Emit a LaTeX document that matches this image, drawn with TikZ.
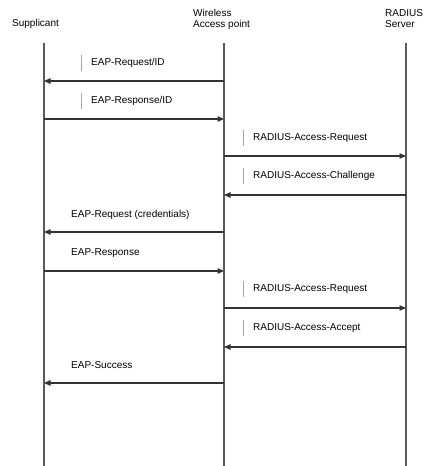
\documentclass[tikz,border=0pt]{standalone}
\usepackage{fontspec}
\setmainfont{Liberation Sans}
\usetikzlibrary{arrows.meta}
\begin{document}
\begin{tikzpicture}[x=1pt,y=-1pt,
  lifeline/.style={draw=black!65,line width=1.3pt},
  msg/.style={draw=black!80,line width=1.2pt,-{Triangle[length=6.5pt,width=5.5pt]}},
  lbl/.style={anchor=west,inner sep=0pt,font=\fontsize{10}{11}\selectfont,text=black},
  hdr/.style={anchor=north west,inner sep=0pt,align=left,font=\fontsize{10}{11.5}\selectfont,text=black},
  tick/.style={draw=black!35,line width=0.8pt}]
\useasboundingbox (0,0) rectangle (427,466);
% headers
\node[hdr] (hs) at (12,19) {Supplicant};
\node[hdr] (ha) at (193,9) {Wireless\\Access point};
\node[hdr] (hr) at (385,9) {RADIUS\\Server};
% lifelines
\coordinate (sT) at (44,43); \coordinate (sB) at (44,466);
\coordinate (aT) at (224,43); \coordinate (aB) at (224,466);
\coordinate (rT) at (406,43); \coordinate (rB) at (406,466);
\draw[lifeline] (sT) -- (sB);
\draw[lifeline] (aT) -- (aB);
\draw[lifeline] (rT) -- (rB);
% message endpoints
\foreach \n/\y in {1/81,2/119,3/156,4/195,5/232,6/271,7/308,8/347,9/383}{
  \coordinate (s\n) at (44,\y);
  \coordinate (a\n) at (224,\y);
  \coordinate (r\n) at (406,\y);
}
% messages
\draw[msg] (a1) -- (s1);
\draw[tick] (81,55) -- (81,71);
\node[lbl] (l1) at (91,63) {EAP-Request/ID};
\draw[msg] (s2) -- (a2);
\draw[tick] (81,93) -- (81,109);
\node[lbl] (l2) at (91,101) {EAP-Response/ID};
\draw[msg] (a3) -- (r3);
\draw[tick] (243,130) -- (243,146);
\node[lbl] (l3) at (253,138) {RADIUS-Access-Request};
\draw[msg] (r4) -- (a4);
\draw[tick] (243,168) -- (243,184);
\node[lbl] (l4) at (253,176) {RADIUS-Access-Challenge};
\draw[msg] (a5) -- (s5);
\node[lbl] (l5) at (71,215) {EAP-Request (credentials)};
\draw[msg] (s6) -- (a6);
\node[lbl] (l6) at (71,253) {EAP-Response};
\draw[msg] (a7) -- (r7);
\draw[tick] (243,281) -- (243,297);
\node[lbl] (l7) at (253,289) {RADIUS-Access-Request};
\draw[msg] (r8) -- (a8);
\draw[tick] (243,320) -- (243,336);
\node[lbl] (l8) at (253,328) {RADIUS-Access-Accept};
\draw[msg] (a9) -- (s9);
\node[lbl] (l9) at (71,365) {EAP-Success};
\end{tikzpicture}
\end{document}
